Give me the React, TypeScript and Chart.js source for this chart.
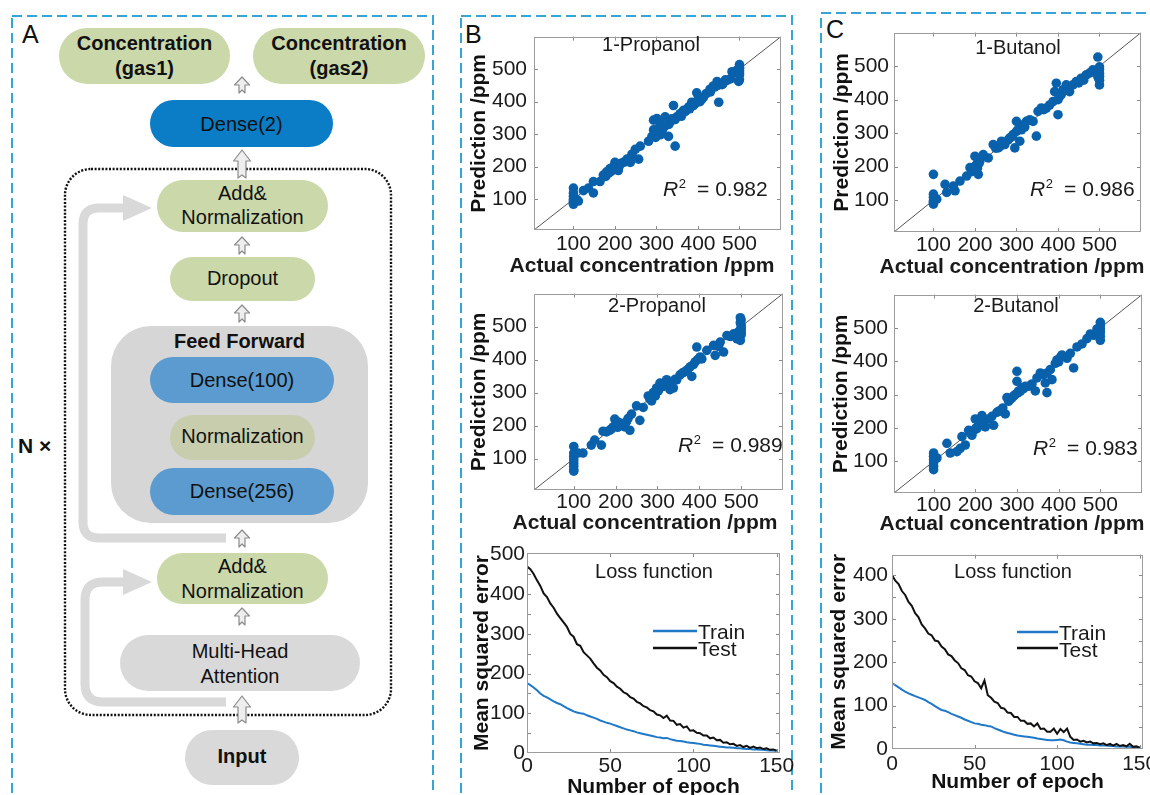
import React, { useEffect, useRef } from "react";
import { Chart, registerables } from "chart.js";

Chart.register(...registerables);

const FONT = '"Liberation Sans", Arial, Helvetica, sans-serif';
Chart.defaults.font.family = FONT;
Chart.defaults.color = "#1a1a1a";

// ------------------------------------------------------------------ data
const CONC_MIN = 5;
const CONC_MAX = 600;
const CONC_TICKS = [100, 200, 300, 400, 500];

// [actual, predicted] (ppm)
const B1_POINTS = [
  [100,134],[100,119],[100,109],[100,99],[100,94],[100,89],[100,84],[108,99],[112,94],[124,126],
  [136,134],[148,119],[148,154],[164,154],[172,174],[180,184],[178,170],[185,180],[188,194],[190,185],
  [195,190],[196,199],[200,213],[200,205],[204,203],[205,195],[208,188],[210,200],[212,208],[215,210],
  [220,213],[225,215],[229,223],[232,220],[237,213],[240,230],[241,238],[249,253],[257,223],[261,263],
  [281,278],[289,293],[293,313],[293,343],[298,290],[300,300],[301,348],[305,318],[305,310],[309,298],
  [309,333],[310,305],[315,315],[317,323],[320,325],[321,353],[329,293],[330,330],[335,340],[337,347],
  [341,388],[345,263],[345,345],[349,353],[357,363],[360,355],[365,373],[370,370],[377,383],[380,378],
  [385,398],[389,388],[392,392],[397,398],[397,427],[400,405],[405,400],[409,407],[410,410],[413,413],
  [420,425],[429,438],[430,430],[437,448],[440,445],[446,462],[448,450],[450,398],[458,452],[460,455],
  [466,467],[470,465],[478,470],[482,492],[490,490],[494,497],[500,514],[500,505],[500,502],[500,495],
  [500,488],[500,482],[500,467],[498,462],
];
const B2_POINTS = [
  [100,137],[100,117],[100,107],[100,97],[100,87],[100,77],[100,67],[100,62],[110,117],[122,117],
  [142,141],[150,156],[166,141],[170,183],[178,181],[186,186],[190,190],[194,196],[198,220],[200,200],
  [202,201],[205,195],[206,211],[210,205],[214,206],[218,200],[222,196],[226,212],[230,222],[234,186],
  [238,235],[250,260],[258,216],[266,255],[278,290],[282,280],[286,275],[290,300],[295,290],[298,314],
  [302,305],[306,329],[310,318],[314,319],[322,339],[326,330],[330,309],[338,314],[342,340],[346,339],
  [354,354],[360,360],[366,364],[372,370],[378,378],[382,349],[386,385],[390,393],[394,438],[396,400],
  [402,408],[406,402],[418,428],[434,443],[438,413],[446,440],[450,453],[458,423],[466,473],[474,470],
  [482,478],[490,463],[494,485],[498,527],[498,512],[500,520],[500,505],[500,497],[500,490],[500,482],
  [500,475],[498,458],
];
const C1_POINTS = [
  [100,177],[100,118],[100,108],[100,98],[100,93],[100,88],[108,103],[128,147],[132,123],[148,142],
  [152,128],[164,157],[180,172],[188,197],[192,185],[196,192],[200,231],[200,200],[204,207],[206,195],
  [208,177],[210,210],[212,217],[220,236],[232,226],[244,266],[250,255],[256,256],[260,260],[264,276],
  [270,270],[272,266],[280,280],[284,286],[290,290],[292,296],[296,256],[300,335],[300,305],[304,311],
  [308,276],[312,310],[316,325],[320,318],[324,335],[332,340],[340,335],[348,291],[352,365],[360,375],
  [366,370],[372,375],[380,384],[388,394],[392,424],[396,449],[400,355],[400,400],[404,409],[408,415],
  [412,429],[420,444],[428,424],[436,444],[444,454],[450,450],[456,464],[462,458],[468,474],[476,479],
  [484,489],[490,485],[496,527],[496,468],[500,498],[500,490],[500,478],[500,470],[500,458],[500,444],
];
const C2_POINTS = [
  [100,125],[100,115],[100,105],[100,95],[100,85],[100,75],[108,110],[132,154],[140,125],[156,129],
  [164,139],[168,174],[176,149],[184,193],[188,185],[192,178],[196,192],[200,227],[202,200],[204,198],
  [208,210],[212,223],[216,237],[220,215],[224,203],[232,227],[240,235],[244,208],[252,247],[256,250],
  [260,252],[266,260],[272,242],[276,291],[280,280],[284,286],[288,290],[292,296],[296,300],[300,370],
  [300,340],[302,305],[304,311],[308,310],[312,321],[316,318],[320,325],[328,325],[336,332],[344,311],
  [348,350],[356,365],[364,360],[368,335],[372,306],[372,365],[380,375],[384,345],[392,394],[396,404],
  [400,398],[404,412],[408,419],[420,409],[428,424],[436,380],[444,443],[456,452],[468,468],[476,482],
  [484,478],[492,497],[500,517],[500,507],[500,497],[500,487],[500,475],[500,463],
];

const EPOCHS = [
  0, 2, 4, 6, 8, 10, 12, 14, 16, 18, 20, 22, 24, 26, 28, 30, 32, 34, 36, 38,
  40, 42, 44, 46, 48, 50, 52, 54, 56, 58, 60, 62, 64, 66, 68, 70, 72, 74, 76, 78,
  80, 82, 84, 86, 88, 90, 92, 94, 96, 98, 100, 102, 104, 106, 108, 110, 112, 114, 116, 118,
  120, 122, 124, 126, 128, 130, 132, 134, 136, 138, 140, 142, 144, 146, 148, 150,
];
const EPOCH_TICKS = [0, 50, 100, 150];

const B_TRAIN = [
  176, 171, 165, 158, 150, 144, 140, 135, 130, 126, 123, 118, 113, 109, 105, 102, 100, 99, 95, 92,
  89, 86, 82, 79, 76, 74, 71, 68, 65, 62, 59, 57, 55, 52, 50, 48, 46, 44, 42, 40,
  39, 37, 38, 35, 33, 31, 30, 29, 27, 26, 25, 24, 23, 21, 20, 19, 18, 17, 16, 15,
  14, 14, 13, 12, 12, 11, 10, 10, 9, 9, 8, 8, 7, 6, 6, 5,
];
const B_TEST = [
  470, 463, 451, 435, 421, 402, 393, 377, 366, 351, 340, 329, 318, 300, 293, 274, 270, 254, 246, 238,
  226, 215, 208, 197, 191, 181, 176, 167, 162, 153, 149, 141, 137, 129, 125, 118, 115, 108, 105, 97,
  95, 88, 94, 82, 81, 71, 73, 64, 67, 56, 57, 51, 50, 44, 44, 37, 39, 32, 33, 26,
  27, 22, 23, 18, 20, 15, 18, 13, 16, 12, 14, 10, 12, 8, 9, 6,
];
const C_TRAIN = [
  151, 147, 142, 137, 132, 128, 125, 122, 119, 116, 113, 108, 104, 99, 94, 90, 88, 85, 81, 78,
  75, 72, 68, 65, 62, 59, 58, 56, 55, 53, 52, 48, 45, 42, 39, 37, 35, 33, 31, 30,
  29, 28, 27, 26, 24, 23, 22, 21, 20, 20, 21, 22, 20, 17, 15, 14, 13, 12, 11, 10,
  10, 9, 9, 8, 8, 8, 7, 7, 6, 6, 6, 5, 5, 4, 4, 3,
];
const C_TEST = [
  401, 388, 380, 364, 355, 339, 330, 313, 304, 287, 278, 266, 262, 250, 248, 236, 230, 218, 214, 204,
  198, 186, 182, 170, 167, 156, 152, 140, 158, 124, 118, 109, 106, 95, 93, 84, 83, 74, 74, 65,
  65, 58, 59, 52, 59, 46, 47, 40, 40, 47, 35, 46, 39, 47, 28, 21, 22, 17, 19, 15,
  17, 13, 14, 11, 13, 9, 12, 8, 12, 7, 9, 6, 12, 5, 6, 3,
];
const B_LOSS_TICKS = [0, 100, 200, 300, 400, 500];
const C_LOSS_TICKS = [0, 100, 200, 300, 400];
const B_LOSS_FRAME_TICKS = [50, 100, 150, 200, 250, 300, 350, 400, 450];
const C_LOSS_FRAME_TICKS = [50, 100, 150, 200, 250, 300, 350, 400];

// ------------------------------------------------------------------ styling
const DOT = "#0a61ab";
const TRAIN_C = "#1f78c8";
const TEST_C = "#111111";
const TICK_SIZE = 21;
const PAD_T = 15;
const PAD_R = 22;

type Geo = { L: number; T: number; R: number; B: number; yW: number; yPad: number; xPad: number; xH: number };
type Box = { left: number; top: number; width: number; height: number };
type Deco =
  | { kind: "text"; text: string; x: number; y: number; size: number; bold?: boolean; align?: CanvasTextAlign }
  | { kind: "r2"; value: string; x: number; y: number }
  | { kind: "legend"; x1: number; x2: number; y: number; color: string; label: string; ty: number };

function boxOf(g: Geo): Box {
  return { left: g.L - g.yW, top: g.T - PAD_T, width: g.yW + (g.R - g.L) + PAD_R, height: PAD_T + (g.B - g.T) + g.xH };
}

function makeDeco(box: Box, decos: Deco[], tx: number[], ty: number[]) {
  return {
    id: "deco",
    afterDatasetsDraw(chart: any) {
      const ctx: CanvasRenderingContext2D = chart.ctx;
      const { left, top, right, bottom } = chart.chartArea;
      const xs = chart.scales.x;
      const ys = chart.scales.y;
      ctx.save();
      ctx.strokeStyle = "#8a8a8a";
      ctx.lineWidth = 1;
      ctx.beginPath();
      for (const v of tx) {
        const px = Math.round(xs.getPixelForValue(v)) + 0.5;
        ctx.moveTo(px, bottom);
        ctx.lineTo(px, bottom - 4);
        ctx.moveTo(px, top);
        ctx.lineTo(px, top + 4);
      }
      for (const v of ty) {
        const py = Math.round(ys.getPixelForValue(v)) + 0.5;
        ctx.moveTo(left, py);
        ctx.lineTo(left + 4, py);
        ctx.moveTo(right, py);
        ctx.lineTo(right - 4, py);
      }
      ctx.stroke();
      ctx.strokeStyle = "#9c9c9c";
      ctx.strokeRect(Math.round(left) + 0.5, Math.round(top) + 0.5, Math.round(right - left) - 1, Math.round(bottom - top) - 1);
      ctx.fillStyle = "#1a1a1a";
      ctx.textBaseline = "alphabetic";
      for (const d of decos) {
        if (d.kind === "text") {
          ctx.font = `${d.bold ? "bold " : ""}${d.size}px ${FONT}`;
          ctx.textAlign = d.align || "center";
          ctx.fillText(d.text, d.x - box.left, d.y - box.top);
        } else if (d.kind === "r2") {
          const x = d.x - box.left;
          const y = d.y - box.top;
          ctx.textAlign = "left";
          ctx.font = `italic 21px ${FONT}`;
          ctx.fillText("R", x, y);
          const w = ctx.measureText("R").width;
          ctx.font = `13px ${FONT}`;
          ctx.fillText("2", x + w + 0.5, y - 8);
          const w2 = ctx.measureText("2").width;
          ctx.font = `21px ${FONT}`;
          ctx.fillText("  = " + d.value, x + w + w2, y);
        } else {
          ctx.strokeStyle = d.color;
          ctx.lineWidth = 2.5;
          ctx.beginPath();
          ctx.moveTo(d.x1 - box.left, d.y - box.top);
          ctx.lineTo(d.x2 - box.left, d.y - box.top);
          ctx.stroke();
          ctx.font = `21px ${FONT}`;
          ctx.textAlign = "left";
          ctx.fillText(d.label, d.x2 + 1 - box.left, d.ty - box.top);
        }
      }
      ctx.restore();
    },
  };
}

function axis(g: Geo, which: "x" | "y", min: number, max: number, ticks: number[], title?: string, titleSize = 21) {
  const base: any = {
    type: "linear",
    min,
    max,
    afterBuildTicks: (s: any) => {
      s.ticks = ticks.map((v) => ({ value: v }));
    },
    grid: { display: false, drawTicks: false },
    border: { display: false },
    ticks: { font: { size: TICK_SIZE, family: FONT }, color: "#1a1a1a", padding: which === "x" ? g.xPad : g.yPad, autoSkip: false, maxRotation: 0 },
    title: title
      ? { display: true, text: title, font: { size: titleSize, weight: "bold", family: FONT }, color: "#111", padding: 0 }
      : { display: false },
  };
  if (which === "x") base.afterFit = (s: any) => { s.height = g.xH; };
  else base.afterFit = (s: any) => { s.width = g.yW; };
  return base;
}

function baseOptions(g: Geo, x: any, y: any) {
  return {
    responsive: false,
    animation: false,
    devicePixelRatio: 1,
    events: [],
    layout: { padding: { left: 0, top: PAD_T, right: PAD_R, bottom: 0 } },
    plugins: { legend: { display: false }, tooltip: { enabled: false } },
    scales: { x, y },
  };
}

type Spec = { key: string; box: Box; config: any };

function scatterSpec(key: string, g: Geo, pts: number[][], name: string, nameX: number, nameY: number, r2: string, r2x: number, r2y: number, xtx: number, xty: number): Spec {
  const box = boxOf(g);
  const decos: Deco[] = [
    { kind: "text", text: name, x: nameX, y: nameY, size: 20 },
    { kind: "r2", value: r2, x: r2x, y: r2y },
    { kind: "text", text: "Actual concentration /ppm", x: xtx, y: xty, size: 21, bold: true },
  ];
  return {
    key,
    box,
    config: {
      type: "scatter",
      data: {
        datasets: [
          {
            type: "line",
            data: [{ x: CONC_MIN, y: CONC_MIN }, { x: CONC_MAX, y: CONC_MAX }],
            borderColor: "#555",
            borderWidth: 1,
            pointRadius: 0,
            order: 2,
          },
          {
            data: pts.map(([a, p]) => ({ x: a, y: p })),
            backgroundColor: DOT,
            borderColor: DOT,
            borderWidth: 0,
            pointRadius: 4.8,
            order: 1,
          },
        ],
      },
      options: baseOptions(g, axis(g, "x", CONC_MIN, CONC_MAX, CONC_TICKS), axis(g, "y", CONC_MIN, CONC_MAX, CONC_TICKS, "Prediction /ppm")),
      plugins: [makeDeco(box, decos, CONC_TICKS, CONC_TICKS)],
    },
  };
}

function lossSpec(key: string, g: Geo, train: number[], test: number[], yMax: number, yTicks: number[], frameY: number[], titleX: number, lx1: number, lx2: number, ly1: number, ly2: number, lt1: number, lt2: number): Spec {
  const box = boxOf(g);
  const decos: Deco[] = [
    { kind: "text", text: "Loss function", x: titleX, y: 578, size: 20 },
    { kind: "legend", x1: lx1, x2: lx2, y: ly1, color: TRAIN_C, label: "Train", ty: lt1 },
    { kind: "legend", x1: lx1, x2: lx2, y: ly2, color: TEST_C, label: "Test", ty: lt2 },
  ];
  return {
    key,
    box,
    config: {
      type: "line",
      data: {
        datasets: [
          { label: "Test", data: EPOCHS.map((e, i) => ({ x: e, y: test[i] })), borderColor: TEST_C, borderWidth: 2, pointRadius: 0, tension: 0 },
          { label: "Train", data: EPOCHS.map((e, i) => ({ x: e, y: train[i] })), borderColor: TRAIN_C, borderWidth: 2, pointRadius: 0, tension: 0 },
        ],
      },
      options: baseOptions(g, axis(g, "x", 0, 152, EPOCH_TICKS, "Number of epoch"), axis(g, "y", 0, yMax, yTicks, "Mean squared error")),
      plugins: [makeDeco(box, decos, [50, 100, 150], frameY)],
    },
  };
}

const SPECS: Spec[] = [
  scatterSpec("b1", { L: 534, T: 32, R: 781, B: 230, yW: 67, yPad: 7, xPad: 2, xH: 50 }, B1_POINTS, "1-Propanol", 651, 51, "0.982", 663, 196, 642, 272),
  scatterSpec("b2", { L: 534, T: 289, R: 783, B: 490, yW: 67, yPad: 7, xPad: 0, xH: 48 }, B2_POINTS, "2-Propanol", 657, 312, "0.989", 678, 452, 645, 529),
  scatterSpec("c1", { L: 894, T: 30, R: 1141, B: 232, yW: 64, yPad: 5, xPad: 1, xH: 50 }, C1_POINTS, "1-Butanol", 1018, 54, "0.986", 1030, 196, 1012, 273),
  scatterSpec("c2", { L: 894, T: 291, R: 1142, B: 493, yW: 65, yPad: 6, xPad: 0, xH: 48 }, C2_POINTS, "2-Butanol", 1016, 312, "0.983", 1033, 455, 1012, 530),
  lossSpec("b3", { L: 527, T: 553, R: 780, B: 753, yW: 57, yPad: 2, xPad: 1, xH: 47 }, B_TRAIN, B_TEST, 504, B_LOSS_TICKS, B_LOSS_FRAME_TICKS, 654, 653, 697, 631, 648, 639, 656),
  lossSpec("c3", { L: 892, T: 553, R: 1143, B: 749, yW: 65, yPad: 4, xPad: 3, xH: 46 }, C_TRAIN, C_TEST, 448, C_LOSS_TICKS, C_LOSS_FRAME_TICKS, 1013, 1017, 1058, 632, 648, 640, 657),
];

function ChartCanvas({ spec }: { spec: Spec }) {
  const ref = useRef<HTMLCanvasElement>(null);
  useEffect(() => {
    if (!ref.current) return;
    const chart = new Chart(ref.current, spec.config);
    return () => chart.destroy();
  }, [spec]);
  const b = spec.box;
  return (
    <canvas
      ref={ref}
      width={b.width}
      height={b.height}
      style={{ position: "absolute", left: b.left, top: b.top, width: b.width, height: b.height }}
    />
  );
}

// ------------------------------------------------------------------ panel A diagram
const GREEN = "#cbd8aa";
const NORM_GRAY = "#c8cead";
const BLUE_DARK = "#0b7cc6";
const BLUE_MID = "#5b9bcf";
const GRAY = "#d9d9d9";

function UpArrow({ cx, top, h, w, head, stem }: { cx: number; top: number; h: number; w: number; head: number; stem: number }) {
  const hw = w / 2;
  const sw = stem / 2;
  const d = `M${cx},${top} L${cx + hw},${top + head} L${cx + sw},${top + head} L${cx + sw},${top + h} L${cx},${top + h - 3} L${cx - sw},${top + h} L${cx - sw},${top + head} L${cx - hw},${top + head} Z`;
  return <path d={d} fill="#eeeeee" stroke="#8c8c8c" strokeWidth={1.2} strokeLinejoin="round" />;
}

function T({ x, y, children, bold, size = 20 }: { x: number; y: number; children: React.ReactNode; bold?: boolean; size?: number }) {
  return (
    <text x={x} y={y} textAnchor="middle" fontFamily={FONT} fontSize={size} fontWeight={bold ? "bold" : "normal"} fill="#111">
      {children}
    </text>
  );
}

function Frame() {
  const dash = { fill: "none", stroke: "#34a5d6", strokeWidth: 2, strokeDasharray: "10 5" };
  return (
    <svg width={1150} height={795} style={{ position: "absolute", left: 0, top: 0 }}>
      <rect x={12} y={16} width={421} height={800} {...dash} />
      <rect x={461} y={16} width={331} height={800} {...dash} />
      <rect x={821} y={13} width={340} height={800} {...dash} />
      <text x={22} y={43} fontFamily={FONT} fontSize={25} fill="#111">A</text>
      <text x={465} y={43} fontFamily={FONT} fontSize={25} fill="#111">B</text>
      <text x={826} y={38} fontFamily={FONT} fontSize={25} fill="#111">C</text>

      {/* outputs */}
      <rect x={59} y={28} width={171} height={56} rx={28} fill={GREEN} />
      <T x={144.5} y={50} bold>Concentration</T>
      <T x={144.5} y={75} bold>(gas1)</T>
      <rect x={253} y={28} width={172} height={56} rx={28} fill={GREEN} />
      <T x={339} y={50} bold>Concentration</T>
      <T x={339} y={75} bold>(gas2)</T>
      <UpArrow cx={242} top={77} h={16} w={15} head={8} stem={6} />

      <rect x={150} y={100} width={183} height={47} rx={23.5} fill={BLUE_DARK} />
      <T x={241.5} y={130.5}>Dense(2)</T>

      {/* encoder block */}
      <rect x={65} y={169} width={326} height={546} rx={26} fill="none" stroke="#111" strokeWidth={2.4} strokeDasharray="2 1.6" />
      <UpArrow cx={242} top={150} h={28} w={17} head={11} stem={8} />

      <path d="M226,538 L99,538 Q83,538 83,522 L83,224 Q83,208 99,208 L128,208" fill="none" stroke={GRAY} strokeWidth={9} />
      <polygon points="123,195 152,208 123,221" fill={GRAY} />
      <path d="M226,702 L103,702 Q85,702 85,684 L85,600 Q85,582 103,582 L128,582" fill="none" stroke={GRAY} strokeWidth={9} />
      <polygon points="123,569 152,582 123,595" fill={GRAY} />

      <rect x={157} y={180} width={171} height={52} rx={26} fill={GREEN} />
      <T x={242.5} y={200}>Add&amp;</T>
      <T x={242.5} y={224}>Normalization</T>
      <UpArrow cx={242} top={237} h={17} w={15} head={8} stem={6} />

      <rect x={170} y={257} width={145} height={44} rx={22} fill={GREEN} />
      <T x={242.5} y={285}>Dropout</T>
      <UpArrow cx={242} top={305} h={17} w={15} head={8} stem={6} />

      <rect x={111} y={326} width={257} height={197} rx={40} fill="#d6d6d6" />
      <T x={239.5} y={348} bold>Feed Forward</T>
      <rect x={150} y={357} width={184} height={46} rx={23} fill={BLUE_MID} />
      <T x={242} y={387}>Dense(100)</T>
      <rect x={170} y={415} width={145} height={45} rx={22.5} fill={NORM_GRAY} />
      <T x={242.5} y={443}>Normalization</T>
      <rect x={150} y={468} width={184} height={47} rx={23.5} fill={BLUE_MID} />
      <T x={242} y={498}>Dense(256)</T>
      <UpArrow cx={242} top={530} h={17} w={15} head={8} stem={6} />

      <rect x={157} y={553} width={171} height={51} rx={25.5} fill={GREEN} />
      <T x={242.5} y={573}>Add&amp;</T>
      <T x={242.5} y={598}>Normalization</T>
      <UpArrow cx={242} top={608} h={17} w={15} head={8} stem={6} />

      <rect x={120} y={635} width={240} height={56} rx={28} fill={GRAY} />
      <T x={240} y={658}>Multi-Head</T>
      <T x={240} y={683}>Attention</T>
      <UpArrow cx={242} top={696} h={27} w={17} head={11} stem={8} />

      <rect x={185} y={730} width={114} height={55} rx={27.5} fill={GRAY} />
      <T x={242} y={763} bold>Input</T>

      <text x={18} y={453} fontFamily={FONT} fontSize={21} fontWeight="bold" fill="#111">N ×</text>
    </svg>
  );
}

export default function App() {
  return (
    <div style={{ position: "fixed", left: 0, top: 0, width: 1150, height: 795, overflow: "hidden", background: "#fff" }}>
      <Frame />
      {SPECS.map((s) => (
        <ChartCanvas key={s.key} spec={s} />
      ))}
    </div>
  );
}
